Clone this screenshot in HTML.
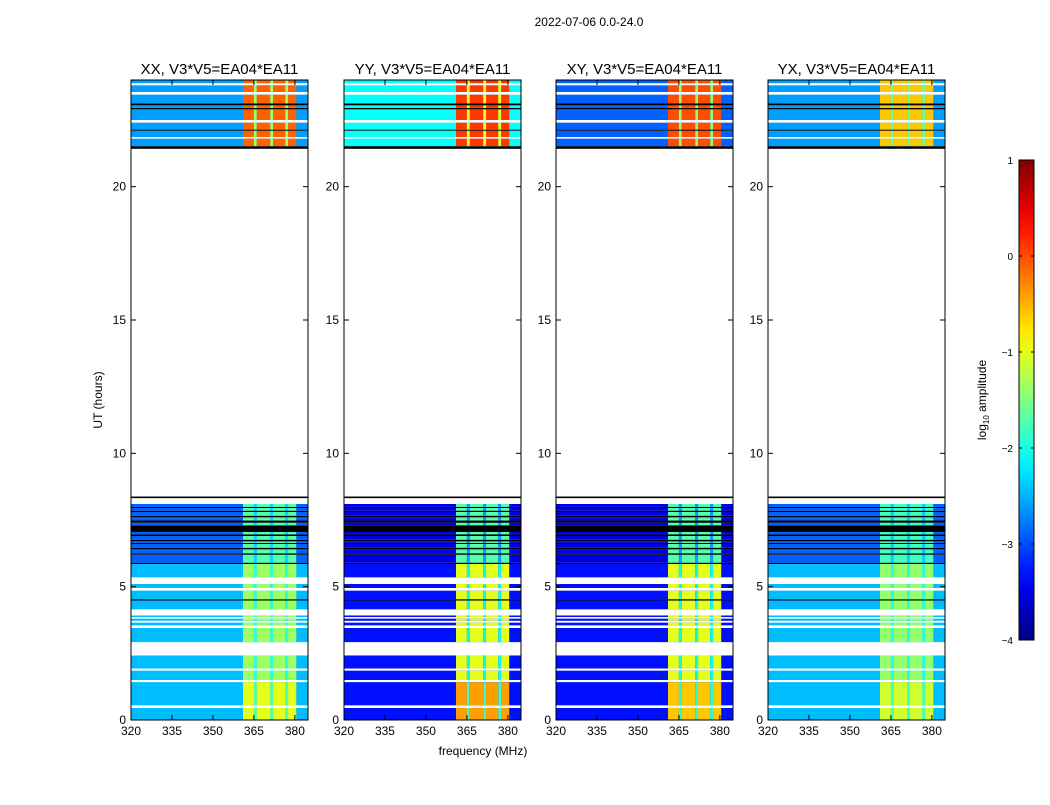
<!DOCTYPE html>
<html><head><meta charset="utf-8"><style>
body{margin:0;background:#fff;}
svg text{font-family:"Liberation Sans",sans-serif;}
</style></head><body>
<svg id="fig" width="1050" height="800" xmlns="http://www.w3.org/2000/svg">
<rect width="1050" height="800" fill="#fff"/>
<text x="589" y="26" font-size="12" text-anchor="middle">2022-07-06 0.0-24.0</text>
<text transform="translate(102,400) rotate(-90)" font-size="12" text-anchor="middle">UT (hours)</text>
<text x="483" y="755" font-size="12" text-anchor="middle">frequency (MHz)</text>
<text transform="translate(986,400) rotate(-90)" font-size="12" text-anchor="middle">log<tspan font-size="8" dy="3">10</tspan><tspan dy="-3"> amplitude</tspan></text>
<g id="panels"></g>
<g id="cbar"></g>
</svg>
<script>
// ---- data ----
const panelNames = ["XX, V3*V5=EA04*EA11","YY, V3*V5=EA04*EA11","XY, V3*V5=EA04*EA11","YX, V3*V5=EA04*EA11"];
const xTicks = [320,335,350,365,380];
const yTicks = [0,5,10,15,20];
// background log amplitude per panel: [lower 0-5.85h, striped 5.85-8.1h, top 21.5-24h]
const bgLevels = [[-2.45,-2.9,-2.6],[-3.3,-3.5,-2.1],[-3.3,-3.5,-2.9],[-2.45,-2.9,-2.6]];
// bright band levels per panel: [lower, striped, top, lowest 0-1.2h]
const bandLevels = [[-1.35,-1.7,-0.1,-1.0],[-1.0,-1.7,0.1,-0.4],[-1.0,-1.7,0.0,-0.6],[-1.4,-1.8,-0.6,-1.1]];
// bright frequency segments (MHz)
const bandSegs = [[361,365],[366,371],[372,376.5],[377.5,380.5]];
// time bands: [start hour, end hour, kind] kind: d=data, w=white gap, k=black line
const timeBands = [
 [0,0.45,'d'],[0.45,0.55,'w'],[0.55,1.42,'d'],[1.42,1.5,'w'],[1.5,1.85,'d'],[1.85,1.93,'w'],[1.93,2.42,'d'],
 [2.42,2.92,'w'],[2.92,3.45,'d'],[3.45,3.55,'w'],[3.55,3.65,'d'],[3.65,3.72,'w'],[3.72,3.8,'d'],[3.8,3.86,'w'],
 [3.86,3.92,'d'],[3.92,4.15,'w'],[4.15,4.48,'d'],[4.48,4.53,'k'],[4.53,4.85,'d'],[4.85,4.95,'w'],[4.95,5.1,'d'],
 [5.1,5.35,'w'],[5.35,5.85,'d'],[5.85,5.9,'k'],[5.9,6.2,'d'],[6.2,6.25,'k'],[6.25,6.4,'d'],[6.4,6.46,'k'],[6.46,6.6,'d'],[6.6,6.64,'k'],[6.64,6.7,'d'],[6.7,6.76,'k'],
 [6.76,6.9,'d'],[6.9,6.96,'k'],[6.96,7.05,'d'],[7.05,7.3,'k'],[7.3,7.4,'d'],[7.4,7.48,'k'],[7.48,7.6,'d'],
 [7.6,7.66,'k'],[7.66,7.8,'d'],[7.8,7.85,'k'],[7.85,7.95,'d'],[7.95,7.99,'k'],[7.99,8.1,'d'],[8.1,8.32,'w'],[8.32,8.38,'k'],[8.38,21.42,'w'],
 [21.42,21.52,'k'],[21.52,21.8,'d'],[21.8,21.86,'w'],[21.86,22.1,'d'],[22.1,22.14,'k'],[22.14,22.4,'d'],
 [22.4,22.5,'w'],[22.5,22.9,'d'],[22.9,22.95,'k'],[22.95,23.05,'d'],[23.05,23.12,'k'],[23.12,23.45,'d'],
 [23.45,23.55,'w'],[23.55,23.8,'d'],[23.8,23.88,'w'],[23.88,24,'d']
];
const cbTicks = [1,0,-1,-2,-3,-4];
// ---- layout ----
const panelX = [131,344,556,768], PW=177, PT=80, PB=720;
const fmin=320,fmax=384.8,tmin=0,tmax=24, vmin=-4,vmax=1;
function jet(v){let t=(v-vmin)/(vmax-vmin);t=Math.max(0,Math.min(1,t));
 const c=x=>Math.round(255*Math.max(0,Math.min(1,1.5-Math.abs(4*t-x))));
 return `rgb(${c(3)},${c(2)},${c(1)})`;}
const NS="http://www.w3.org/2000/svg";
function mk(tag,attrs,parent){const e=document.createElementNS(NS,tag);for(const k in attrs)e.setAttribute(k,attrs[k]);parent.appendChild(e);return e;}
const panels=document.getElementById('panels');
panelNames.forEach((nm,p)=>{
 const x0=panelX[p];
 const xs=f=>x0+(f-fmin)/(fmax-fmin)*PW;
 const ys=t=>PB-(t-tmin)/(tmax-tmin)*(PB-PT);
 const g=mk('g',{},panels);
 
 
 timeBands.forEach(([a,b,k])=>{
  const y1=ys(b),h=ys(a)-ys(b);
  if(k==='w')return;
  if(k==='k'){const r=mk('rect',{x:x0,y:y1,width:PW,height:Math.max(h,1),fill:'#000'},g);
   return;}
  const zone=a>=21?2:(a>=5.85?1:0);
  const bg=bgLevels[p][zone];
  let bl=bandLevels[p][zone];
  if(a<1.2)bl=bandLevels[p][3];
  const r=mk('rect',{x:x0,y:y1,width:PW,height:h,fill:jet(bg)},g);
  
  bandSegs.forEach(([f1,f2])=>{
   const c=mk('rect',{x:xs(f1),y:y1,width:xs(f2)-xs(f1),height:h,fill:jet(bl)},g);
   
  });
  const gapv=(bg+bl)/2;
  [[365,366],[371,372],[376.5,377.5]].forEach(([f1,f2])=>{
   const c=mk('rect',{x:xs(f1),y:y1,width:xs(f2)-xs(f1),height:h,fill:jet(gapv)},g);
   
  });
 });
 const fr=mk('rect',{x:x0,y:PT,width:PW,height:PB-PT,fill:'none',stroke:'#000','stroke-width':1},g);
 
 const tt=mk('text',{x:x0+PW/2,y:PT-6,'font-size':15,'text-anchor':'middle'},g);tt.textContent=nm;
 
 xTicks.forEach(v=>{const X=xs(v);
  mk('line',{x1:X,x2:X,y1:PB,y2:PB-5,stroke:'#000'},g);mk('line',{x1:X,x2:X,y1:PT,y2:PT+5,stroke:'#000'},g);
  const t=mk('text',{x:X,y:PB+15,'font-size':12,'text-anchor':'middle'},g);t.textContent=v;
  });
 yTicks.forEach(v=>{const Y=ys(v);
  mk('line',{x1:x0,x2:x0+5,y1:Y,y2:Y,stroke:'#000'},g);mk('line',{x1:x0+PW,x2:x0+PW-5,y1:Y,y2:Y,stroke:'#000'},g);
  const t=mk('text',{x:x0-5,y:Y+4,'font-size':12,'text-anchor':'end'},g);t.textContent=v;
  });
});
// colorbar
const cb=document.getElementById('cbar');
const CX=1019,CW=15,CT=160,CB=640;
const defs=mk('defs',{},cb);const lg=mk('linearGradient',{id:'jetg',x1:0,y1:1,x2:0,y2:0},defs);
for(let i=0;i<=20;i++){mk('stop',{offset:i/20,'stop-color':jet(vmin+(vmax-vmin)*i/20)},lg);}
const cr=mk('rect',{x:CX,y:CT,width:CW,height:CB-CT,fill:'url(#jetg)',stroke:'#000'},cb);

cbTicks.forEach(v=>{const Y=CB-(v-vmin)/(vmax-vmin)*(CB-CT);
 mk('line',{x1:CX,x2:CX+3,y1:Y,y2:Y,stroke:'#000'},cb);mk('line',{x1:CX+CW,x2:CX+CW-3,y1:Y,y2:Y,stroke:'#000'},cb);
 const t=mk('text',{x:CX-6,y:Y+4,'font-size':10,'text-anchor':'end'},cb);t.textContent=v<0?'\u2212'+(-v):v;
 });
</script>
</body></html>
